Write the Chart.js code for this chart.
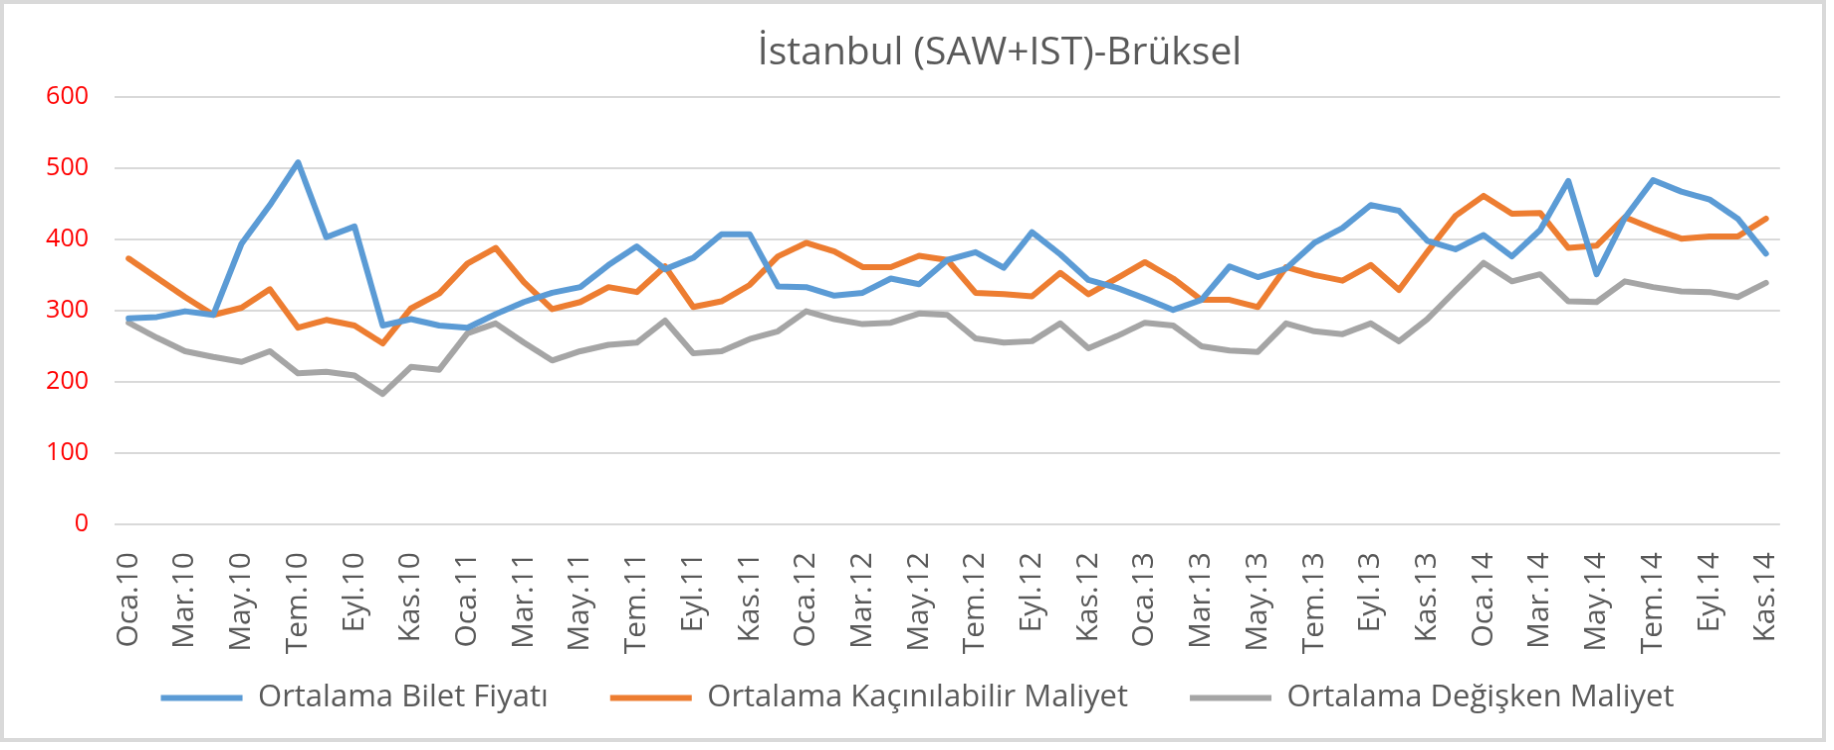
<!DOCTYPE html>
<html>
<head>
<meta charset="utf-8">
<title>İstanbul (SAW+IST)-Brüksel</title>
<script src="https://cdn.jsdelivr.net/npm/chart.js@4.4.1/dist/chart.umd.min.js"></script>
<style>
    body { margin: 0; background: #ffffff; }
    #lineChart { display: block; border: 4px solid #d9d9d9; }
</style>
</head>
<body>
<canvas id="lineChart" width="1826" height="742"></canvas>
<script>
let months = ['Oca', 'Şub', 'Mar', 'Nis', 'May', 'Haz', 'Tem', 'Ağu', 'Eyl', 'Eki', 'Kas', 'Ara'];
let years = ['10', '11', '12', '13', '14'];
let lastMonthCount = 11;

let biletFiyati = [
    289, 291, 299, 294, 394, 448, 508, 403, 418, 279, 288, 279,
    276, 295, 312, 325, 333, 364, 390, 358, 374, 407, 407, 334,
    333, 321, 325, 345, 337, 371, 382, 360, 410, 379, 343, 332,
    317, 301, 315, 362, 347, 359, 395, 416, 448, 440, 398, 386,
    406, 376, 413, 482, 351, 430, 483, 467, 456, 429, 380
];
let kacinilabilirMaliyet = [
    373, 346, 319, 294, 304, 330, 276, 287, 279, 254, 303, 324,
    366, 388, 340, 302, 312, 333, 326, 362, 305, 313, 336, 376,
    395, 383, 361, 361, 377, 371, 325, 323, 320, 353, 323, 345,
    368, 345, 315, 315, 305, 361, 350, 342, 364, 329, 382, 433,
    461, 436, 437, 388, 391, 431, 415, 401, 404, 404, 429
];
let degiskenMaliyet = [
    283, 262, 243, 235, 228, 243, 212, 214, 209, 183, 221, 217,
    268, 282, 255, 230, 243, 252, 255, 286, 240, 243, 260, 271,
    299, 288, 281, 283, 296, 294, 261, 255, 257, 282, 247, 264,
    283, 279, 250, 244, 242, 282, 271, 267, 282, 257, 288, 328,
    367, 341, 351, 313, 312, 341, 333, 327, 326, 319, 339
];
let seriesNames = ['Ortalama Bilet Fiyatı', 'Ortalama Kaçınılabilir Maliyet', 'Ortalama Değişken Maliyet'];
let seriesColors = ['#5b9bd5', '#ed7d31', '#a5a5a5'];
let yTicks = [0, 100, 200, 300, 400, 500, 600];

function buildLabels() {
    let labels = [];
    years.forEach((year, y) => {
        let count = (y === years.length - 1) ? lastMonthCount : months.length;
        for (let m = 0; m < count; m++) {
            labels.push(months[m] + '.' + year);
        }
    });
    return labels;
}

function makeDataset(i, values) {
    return {
        label: seriesNames[i],
        data: values,
        borderColor: seriesColors[i],
        backgroundColor: seriesColors[i],
        borderWidth: 6,
        pointRadius: 0,
        tension: 0,
        borderJoinStyle: 'round',
        borderCapStyle: 'round'
    };
}

// Excel puts the title right of centre, and the legend a bit too;
// the x axis box is also made taller so the rotated labels are not clipped
const nudgeBoxes = {
    id: 'nudgeBoxes',
    afterLayout(chart) {
        chart.titleBlock.left += 211;
        chart.legend.left += 46;
        chart.scales.x.bottom += 50;
        chart.scales.x.height += 50;
    }
};

let labels = buildLabels();
let textColor = '#595959';

new Chart(document.getElementById('lineChart'), {
    type: 'line',
    data: {
        labels: labels,
        datasets: [
            makeDataset(0, biletFiyati),
            makeDataset(1, kacinilabilirMaliyet),
            makeDataset(2, degiskenMaliyet)
        ]
    },
    plugins: [nudgeBoxes],
    options: {
        responsive: false,
        animation: false,
        layout: {
            padding: { left: 0, right: 37, top: 0, bottom: 15 }
        },
        plugins: {
            title: {
                display: true,
                text: 'İstanbul (SAW+IST)-Brüksel',
                color: textColor,
                font: { family: 'Open Sans', size: 39, weight: 'normal' },
                padding: { top: 26, bottom: 21 }
            },
            legend: {
                position: 'bottom',
                labels: {
                    usePointStyle: true,
                    pointStyle: 'line',
                    pointStyleWidth: 82,
                    padding: 62,
                    color: textColor,
                    font: { family: 'Open Sans', size: 31 }
                }
            },
            tooltip: { enabled: false }
        },
        scales: {
            x: {
                offset: true,
                grid: { display: false },
                border: { display: false },
                afterFit: scale => { scale.height = 98; },
                ticks: {
                    autoSkip: false,
                    minRotation: 90,
                    maxRotation: 90,
                    padding: 20,
                    color: textColor,
                    font: { family: 'Open Sans', size: 30 },
                    callback: function (value, index) {
                        return index % 2 === 0 ? this.getLabelForValue(value) : null;
                    }
                }
            },
            y: {
                min: yTicks[0],
                max: yTicks[yTicks.length - 1],
                afterFit: scale => { scale.width = 111; },
                grid: { color: '#d9d9d9', lineWidth: 2, drawTicks: false },
                border: { display: false },
                ticks: {
                    stepSize: 100,
                    padding: 26,
                    color: '#ff0000',
                    font: { family: 'Open Sans', size: 25 }
                }
            }
        }
    }
});
</script>
</body>
</html>
